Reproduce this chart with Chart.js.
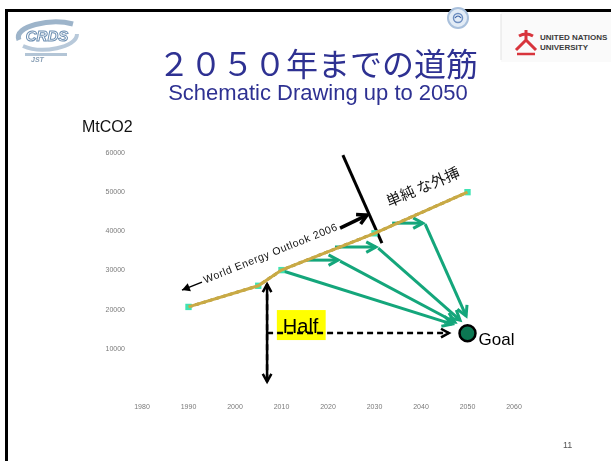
<!DOCTYPE html>
<html>
<head>
<meta charset="utf-8">
<title>2050年までの道筋</title>
<script src="https://cdn.jsdelivr.net/npm/chart.js@4.4.1/dist/chart.umd.min.js"></script>
<style>
  html, body { margin: 0; padding: 0; background: #fff; }
  #slide { position: relative; width: 611px; height: 461px; overflow: hidden; font-family: "Liberation Sans", Arial, sans-serif; }
  #frameTop { position: absolute; left: 5px; top: 9px; width: 606px; height: 3px; background: #000; }
  #frameLeft { position: absolute; left: 5px; top: 9px; width: 3px; height: 452px; background: #000; }
  #chart { position: absolute; left: 0; top: 0; }
  .head { position: absolute; left: 0; width: 636px; text-align: center; color: #2e3192; white-space: nowrap; }
  #title { top: 38px; font: 32px "Noto Sans CJK JP", sans-serif; line-height: 48px; }
  #subtitle { top: 80px; font-size: 22px; line-height: 26px; }
  #unit { position: absolute; left: 82px; top: 118px; font-size: 16px; color: #111; }
  #page { position: absolute; left: 563px; top: 440px; font-size: 9px; color: #555; }
  svg { position: absolute; }
</style>
</head>
<body>
<div id="slide">
  <canvas id="chart" width="611" height="461"></canvas>
  <div id="frameTop"></div>
  <div id="frameLeft"></div>

  <!-- CRDS logo -->
  <svg style="left:11px; top:16px" width="72" height="48">
    <path d="M8 24 C2 10 40 2 62 8" fill="none" stroke="#9db4ca" stroke-width="5"/>
    <path d="M12 30 C30 38 66 32 66 18" fill="none" stroke="#b8c9da" stroke-width="4"/>
    <text x="36" y="25" text-anchor="middle" font-family="Liberation Sans" font-weight="bold" font-style="italic" font-size="15" fill="#fff" stroke="#6d8fb2" stroke-width="1">CRDS</text>
    <rect x="14" y="37" width="42" height="3" fill="#b3c5d6"/>
    <text x="20" y="46" font-family="Liberation Sans" font-size="7" font-weight="bold" font-style="italic" fill="#8aa0b6">JST</text>
  </svg>

  <!-- UN emblem -->
  <svg style="left:446px; top:6px" width="24" height="24">
    <circle cx="12" cy="12" r="10" fill="#e3ecf6" stroke="#a9c0dc" stroke-width="2"/>
    <circle cx="12" cy="12" r="4.5" fill="none" stroke="#6f8fc0" stroke-width="1.5"/>
    <path d="M9 12 q3 -4 6 0" fill="none" stroke="#3d64a8" stroke-width="1.2"/>
  </svg>

  <!-- UNU logo -->
  <svg style="left:498px; top:12px" width="113" height="50">
    <rect x="3" y="0" width="110" height="50" fill="#fafafa"/>
    <line x1="3" y1="2" x2="3" y2="48" stroke="#e2e2e2" stroke-width="1"/>
    <path d="M28 18 v10 M28 28 l-10 10 M28 28 l10 10 M21 24 q7 -4 14 0" fill="none" stroke="#d8343c" stroke-width="3"/>
    <path d="M19 42 h18" stroke="#d8343c" stroke-width="2.5"/>
    <text x="42" y="28" font-family="Liberation Sans" font-size="8" font-weight="bold" fill="#3b3b3b">UNITED NATIONS</text>
    <text x="42" y="38" font-family="Liberation Sans" font-size="8" font-weight="bold" fill="#3b3b3b">UNIVERSITY</text>
  </svg>

  <div class="head" id="title">２０５０年までの道筋</div>
  <div class="head" id="subtitle">Schematic Drawing up to 2050</div>
  <div id="unit">MtCO2</div>
  <div id="page">11</div>
</div>

<script>
// World Energy Outlook 2006 path, then simple extrapolation to 2050
const weoYears = [1990, 2005, 2010, 2030, 2050];
const weoMtCO2 = [20700, 26100, 30100, 39500, 50000];

// 2050 target
const goalYear = 2050;
const goalMtCO2 = 14000;

// axis ticks
const yearTicks = [1980, 1990, 2000, 2010, 2020, 2030, 2040, 2050, 2060];
const emissionTicks = [10000, 20000, 30000, 40000, 50000, 60000];

// green reduction paths, each segment is [fromYear, fromValue, toYear, toValue]
const reductionPaths = [
  [2010.0, 30000, 2046.7, 16300],
  [2015.5, 32650, 2022.2, 32650],
  [2022.6, 32400, 2047.3, 16800],
  [2021.5, 35970, 2030.3, 35970],
  [2030.8, 35700, 2048.4, 17300],
  [2033.8, 42090, 2040.4, 42090],
  [2040.9, 41840, 2049.7, 18400]
];

// "Half" guides (dashed)
const halfVertical = [2006.9, 26500, 2006.9, 1600];
const halfHorizontal = [2006.9, 14030, 2046.0, 14030];
const halfBox = [2009.0, 19900, 2019.5, 12240];

// end of the WEO horizon and pointer to it
const horizonCut = [2023.2, 59440, 2031.6, 36990];
const horizonPointer = [2022.6, 40820, 2028.4, 44130];
const weoPointer = [1992.9, 27040, 1988.6, 25000];

// rotated labels: [year, value, angle in degrees]
const weoLabelAt = [1993.6, 26700, -22];
const extrapLabelAt = [2033.1, 46170, -23];

Chart.defaults.font.family = '"Liberation Sans", Arial, sans-serif';

const GREEN = '#14a67b';

function drawArrow(ctx, x1, y1, x2, y2, opts) {
  const a = Math.atan2(y2 - y1, x2 - x1);
  const head = opts.head || 10;
  ctx.save();
  ctx.strokeStyle = opts.color;
  ctx.fillStyle = opts.color;
  ctx.lineWidth = opts.width;
  ctx.lineCap = 'butt';
  ctx.setLineDash(opts.dash || []);
  ctx.beginPath();
  ctx.moveTo(x1, y1);
  ctx.lineTo(x2, y2);
  ctx.stroke();
  ctx.setLineDash([]);
  ctx.lineJoin = 'miter';
  ctx.beginPath();
  ctx.moveTo(x2 - head * Math.cos(a - 0.5), y2 - head * Math.sin(a - 0.5));
  ctx.lineTo(x2, y2);
  ctx.lineTo(x2 - head * Math.cos(a + 0.5), y2 - head * Math.sin(a + 0.5));
  if (opts.filled) { ctx.closePath(); ctx.fill(); } else { ctx.stroke(); }
  ctx.restore();
}

const annotations = {
  id: 'annotations',
  beforeDatasetsDraw(chart) {
    const { ctx, scales: { x, y } } = chart;
    const px = v => x.getPixelForValue(v);
    const py = v => y.getPixelForValue(v);
    const seg = (s, opts) => drawArrow(ctx, px(s[0]), py(s[1]), px(s[2]), py(s[3]), opts);

    // yellow "Half" box
    ctx.save();
    ctx.fillStyle = '#ffff00';
    ctx.fillRect(px(halfBox[0]), py(halfBox[1]), px(halfBox[2]) - px(halfBox[0]), py(halfBox[3]) - py(halfBox[1]));
    ctx.restore();

    // dashed guides
    const dashed = { color: '#000', width: 2.5, dash: [6, 4], head: 9 };
    seg(halfHorizontal, dashed);
    seg(halfVertical, dashed);
    seg([halfVertical[2], halfVertical[3], halfVertical[0], halfVertical[1]], { color: '#000', width: 2.5, head: 9 });

    ctx.save();
    ctx.fillStyle = '#000';
    ctx.font = '20px "Liberation Sans", Arial, sans-serif';
    ctx.textBaseline = 'alphabetic';
    ctx.fillText('Half', px(halfBox[0]) + 6, py(halfHorizontal[1]));
    ctx.restore();

    // reduction paths
    reductionPaths.forEach(s => seg(s, { color: GREEN, width: 3, head: 11 }));

    // WEO horizon
    ctx.save();
    ctx.strokeStyle = '#000';
    ctx.lineWidth = 3;
    ctx.beginPath();
    ctx.moveTo(px(horizonCut[0]), py(horizonCut[1]));
    ctx.lineTo(px(horizonCut[2]), py(horizonCut[3]));
    ctx.stroke();
    ctx.restore();
    seg(horizonPointer, { color: '#000', width: 3.5, head: 11 });
    seg(weoPointer, { color: '#000', width: 1.5, head: 9, filled: true });

    // rotated labels
    const rotated = (at, text, font, spacing) => {
      ctx.save();
      ctx.translate(px(at[0]), py(at[1]));
      ctx.rotate(at[2] * Math.PI / 180);
      ctx.font = font;
      ctx.letterSpacing = spacing;
      ctx.fillStyle = '#111';
      ctx.fillText(text, 0, 0);
      ctx.restore();
    };
    rotated(weoLabelAt, 'World Energy Outlook 2006', '10.5px "Liberation Sans", Arial, sans-serif', '0.6px');
    rotated(extrapLabelAt, '単純 な外挿', '15px "Noto Sans CJK JP", sans-serif', '0px');
  },
  afterDatasetsDraw(chart) {
    const { ctx, scales: { x, y } } = chart;
    ctx.save();
    ctx.fillStyle = '#000';
    ctx.font = '17px "Liberation Sans", Arial, sans-serif';
    ctx.fillText('Goal', x.getPixelForValue(goalYear) + 11, y.getPixelForValue(goalMtCO2) + 12);
    ctx.restore();
  }
};

const weoPoints = weoYears.map((yr, i) => ({ x: yr, y: weoMtCO2[i] }));

new Chart(document.getElementById('chart'), {
  type: 'line',
  data: {
    datasets: [
      {
        data: weoPoints,
        borderColor: '#c9aa45',
        borderWidth: 3,
        pointRadius: 0,
        tension: 0
      },
      {
        data: weoPoints,
        borderColor: '#a68722',
        borderWidth: 3,
        borderDash: [4, 3],
        pointStyle: 'rect',
        pointRadius: 4.5,
        pointBackgroundColor: '#3fe3b3',
        pointBorderWidth: 0,
        tension: 0
      },
      {
        data: [{ x: goalYear, y: goalMtCO2 }],
        showLine: false,
        pointRadius: 8,
        pointBackgroundColor: '#0c7752',
        pointBorderColor: '#000',
        pointBorderWidth: 2.5
      }
    ]
  },
  options: {
    responsive: false,
    animation: false,
    events: [],
    layout: { padding: { left: 82, right: 97, top: 153, bottom: 43 } },
    plugins: { legend: { display: false }, tooltip: { enabled: false } },
    scales: {
      x: {
        type: 'linear',
        min: 1980,
        max: 2060,
        grid: { display: false, drawTicks: false },
        border: { display: false },
        afterBuildTicks: s => { s.ticks = yearTicks.map(v => ({ value: v })); },
        afterFit: s => { s.height = 30; },
        ticks: { padding: 15, color: '#7a7a7a', font: { size: 7 }, maxRotation: 0, autoSkip: false, callback: v => String(v) }
      },
      y: {
        min: 0,
        max: 60000,
        grid: { display: false, drawTicks: false },
        border: { display: false },
        afterBuildTicks: s => { s.ticks = emissionTicks.map(v => ({ value: v })); },
        afterFit: s => { s.width = 60; },
        ticks: { padding: 17, color: '#7a7a7a', font: { size: 7 }, autoSkip: false, callback: v => String(v) }
      }
    }
  },
  plugins: [annotations]
});
</script>
</body>
</html>
